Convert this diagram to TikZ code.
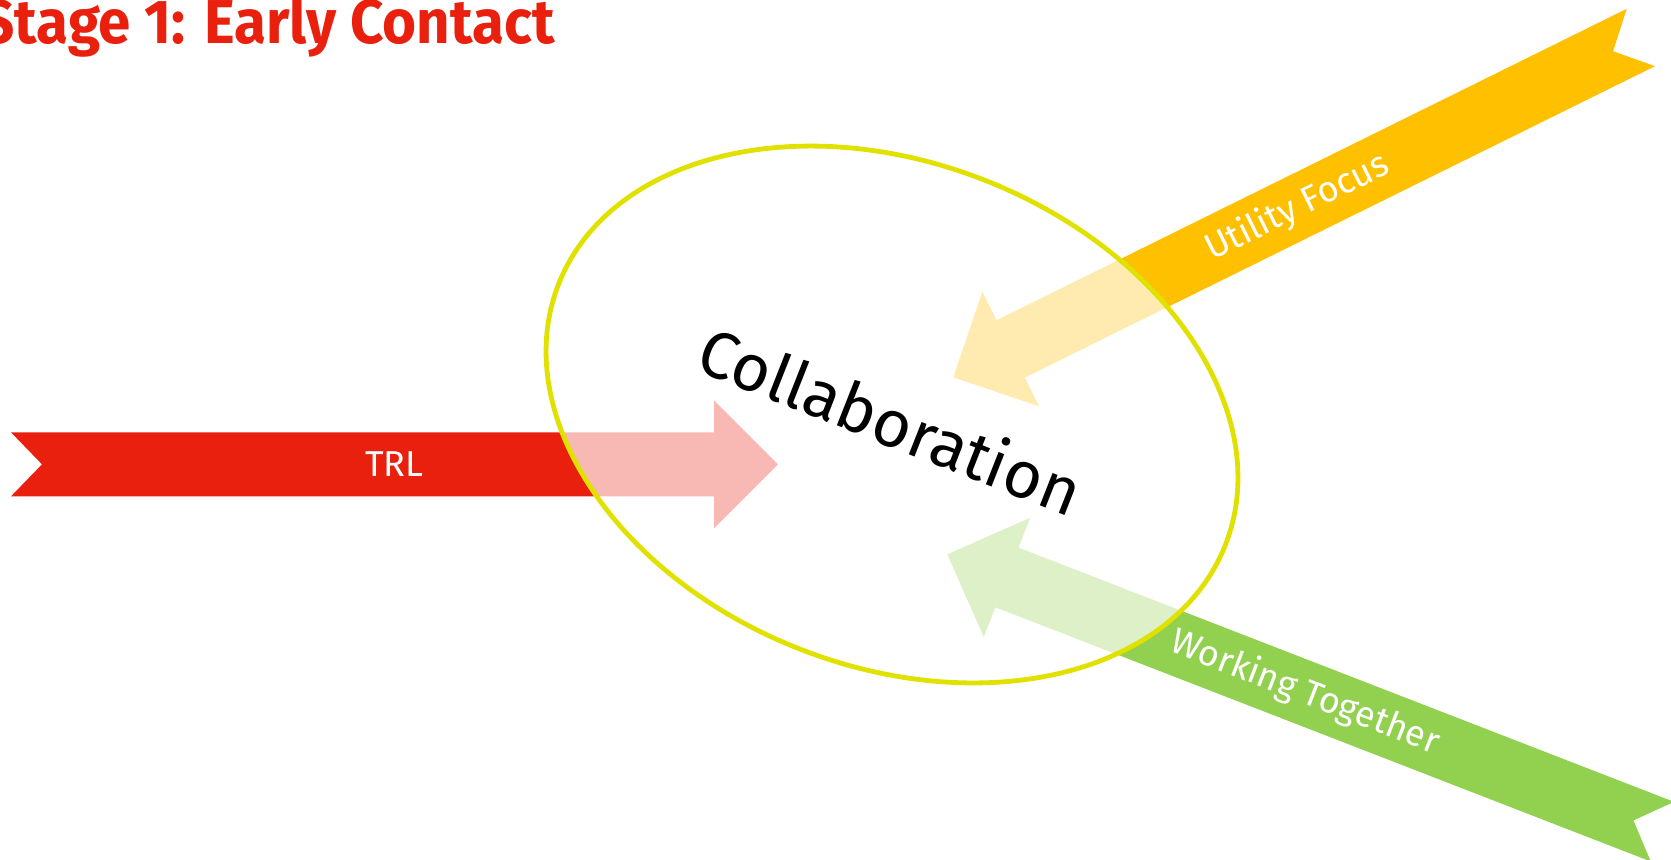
\documentclass[tikz,border=0pt]{standalone}
\usepackage{fontspec}
\setmainfont{Fira Sans}
\newfontfamily\titlefont[FakeStretch=0.94]{Fira Sans}
\usetikzlibrary{shapes.geometric}

\definecolor{trlred}{RGB}{233,32,13}
\definecolor{utilgold}{RGB}{255,192,0}
\definecolor{teamgreen}{RGB}{146,208,80}
\definecolor{ringyellow}{RGB}{225,225,0}

\begin{document}
\begin{tikzpicture}[
		x=0.5pt, y=-0.5pt,
		title/.style={anchor=base east, inner sep=0pt, text=trlred, font=\titlefont\bfseries\fontsize{31}{36}\selectfont},
		band label/.style={text=white, inner sep=0pt, font=\fontsize{18}{22}\selectfont},
		collab ring/.style={ellipse, draw=ringyellow, line width=2.4pt, fill=white, fill opacity=0.69,
			minimum width=358pt, minimum height=252pt, inner sep=0pt},
		collab text/.style={text=black, inner sep=0pt, font=\fontsize{33}{39}\selectfont}
		]

	\useasboundingbox (0,0) rectangle (1671,859);
	\clip (0,0) rectangle (1671,859);

	% Title
	\node[title] (title) at (555,43) {Stage 1: Early Contact};

	% Arrows (tip, direction, colour, label angle, name, label)
	\foreach \tipx/\tipy/\dir/\col/\rot/\nm/\txt in {
		778/464.3/0/trlred/0/trl/TRL,
		953.3/377.3/206.3/utilgold/26.3/utility/Utility Focus,
		947.3/554.3/158.8/teamgreen/-21.2/together/Working Together}{
		\begin{scope}[shift={(\tipx,\tipy)}, rotate=\dir]
			\fill[\col] (0,0) -- (-64,-64) -- (-64,-32) -- (-767,-32) -- (-736,0)
				-- (-767,32) -- (-64,32) -- (-64,64) -- cycle;
			\node[band label, rotate=\rot] (\nm) at (-383.5,0) {\txt};
		\end{scope}
	}

	% Collaboration ring
	\node[collab ring, rotate=-21.3] (ring) at (892,414.5) {};
	\node[collab text, rotate=-21.5] (collab) at (891,420) {Collaboration};

\end{tikzpicture}
\end{document}
